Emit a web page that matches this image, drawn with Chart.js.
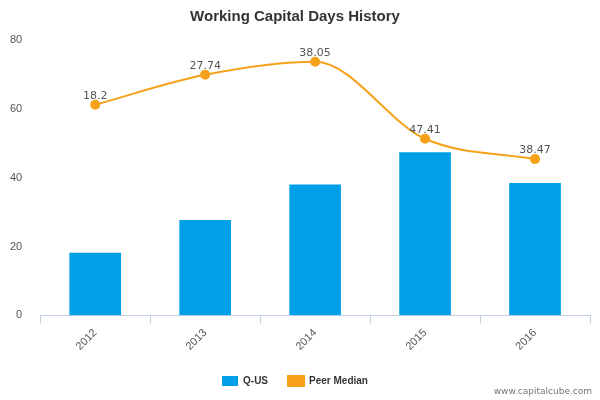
<!DOCTYPE html>
<html>
<head>
<script src="https://cdn.jsdelivr.net/npm/chart.js@4"></script>
<style>
  body { margin: 0; background: #fff; }
  #wrap { width: 600px; height: 400px; }
</style>
</head>
<body>
<div id="wrap"><canvas id="chart"></canvas></div>
<script>
// Chart data
const years = ['2012', '2013', '2014', '2015', '2016'];
const qusDays = [18.2, 27.74, 38.05, 47.41, 38.47];
const peerMedian = [61.2, 69.9, 73.7, 51.3, 45.4];

// Draw value labels above bars and the site footer
const barLabels = {
  id: 'barLabels',
  afterDatasetsDraw(chart) {
    const ctx = chart.ctx;
    const meta = chart.getDatasetMeta(0);
    ctx.save();
    ctx.font = '11px "DejaVu Sans", Arial, sans-serif';
    ctx.fillStyle = '#555';
    ctx.textAlign = 'center';
    ctx.textBaseline = 'bottom';
    meta.data.forEach((bar, i) => {
      ctx.fillText(String(qusDays[i]), bar.x, bar.y - 3);
    });
    ctx.font = '9px "DejaVu Sans", Arial, sans-serif';
    ctx.fillStyle = '#777';
    ctx.textAlign = 'right';
    ctx.fillText('www.capitalcube.com', 592, 396);
    ctx.restore();
  }
};

new Chart(document.getElementById('chart'), {
  data: {
    labels: years,
    datasets: [
      {
        type: 'line',
        label: 'Peer Median',
        data: peerMedian,
        borderColor: '#f7a11a',
        backgroundColor: '#f7a11a',
        borderWidth: 2,
        pointRadius: 4,
        cubicInterpolationMode: 'monotone',
        order: 0
      },
      {
        type: 'bar',
        label: 'Q-US',
        data: qusDays,
        backgroundColor: '#009fe8',
        categoryPercentage: 0.47,
        barPercentage: 1,
        order: 1
      }
    ]
  },
  options: {
    responsive: true,
    maintainAspectRatio: false,
    animation: false,
    layout: { padding: { left: 0, right: 10, top: 0, bottom: 4 } },
    scales: {
      x: {
        grid: { display: true, drawOnChartArea: false, offset: true, color: '#c0d0e0', tickLength: 8 },
        border: { color: '#c0d0e0' },
        ticks: { color: '#555', maxRotation: 45, minRotation: 45, font: { size: 11 } }
      },
      y: {
        min: 0, max: 80,
        ticks: { stepSize: 20, color: '#555', font: { size: 11 }, padding: 10 },
        grid: { display: false },
        border: { display: false }
      }
    },
    plugins: {
      title: {
        display: true,
        text: 'Working Capital Days History',
        color: '#333',
        font: { size: 15, weight: 'bold' },
        padding: { top: 8, bottom: 14 }
      },
      legend: {
        position: 'bottom',
        reverse: true,
        labels: {
          color: '#333',
          font: { size: 10, weight: 'bold' },
          usePointStyle: false,
          boxWidth: 16,
          boxHeight: 10,
          padding: 20,
          generateLabels(chart) {
            const items = Chart.defaults.plugins.legend.labels.generateLabels(chart);
            items.forEach(it => {
              if (it.text === 'Peer Median') { it.pointStyle = 'line'; }
            });
            return items;
          }
        }
      },
      tooltip: { enabled: false }
    }
  },
  plugins: [barLabels]
});
</script>
</body>
</html>
